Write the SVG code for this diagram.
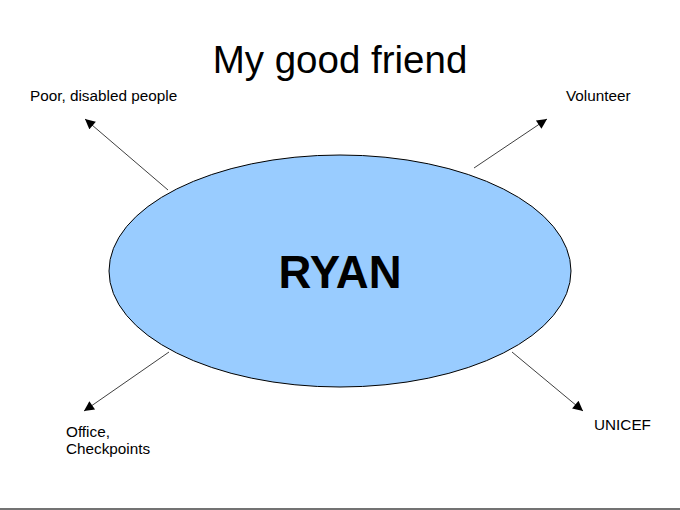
<svg xmlns="http://www.w3.org/2000/svg" width="680" height="510" viewBox="0 0 680 510">
<style>
text{font-family:"Liberation Sans",Arial,sans-serif;fill:#000}
.lbl{font-size:15.3px}
.conn line{stroke:#404040;stroke-width:1;marker-end:url(#ah)}
</style>
<defs>
<marker id="ah" viewBox="0 0 10 10" refX="10" refY="5" markerWidth="12" markerHeight="10" markerUnits="userSpaceOnUse" orient="auto">
<path d="M0,0 L10,5 L0,10 z" fill="#000"/>
</marker>
</defs>
<rect width="680" height="510" fill="#fff"/>
<text x="340" y="73" font-size="38.5" text-anchor="middle">My good friend</text>
<g id="ryan">
<ellipse cx="340" cy="271" rx="231" ry="116" fill="#99ccff" stroke="#000" stroke-width="1"/>
<text x="340" y="288" font-size="45.5" font-weight="bold" text-anchor="middle">RYAN</text>
</g>
<g class="conn" id="connectors">
<line x1="168" y1="190" x2="85" y2="119"/>
<line x1="474" y1="168" x2="547" y2="119"/>
<line x1="169" y1="352" x2="84" y2="411"/>
<line x1="512" y1="352" x2="583" y2="411"/>
</g>
<g id="poor"><text class="lbl" x="30" y="101">Poor, disabled people</text></g>
<g id="volunteer"><text class="lbl" x="566" y="101">Volunteer</text></g>
<g id="office"><text class="lbl" x="66" y="437">Office,</text><text class="lbl" x="66" y="454">Checkpoints</text></g>
<g id="unicef"><text class="lbl" x="594" y="430">UNICEF</text></g>
<line x1="0" y1="509" x2="680" y2="509" stroke="#444" stroke-width="1.5"/>
</svg>
